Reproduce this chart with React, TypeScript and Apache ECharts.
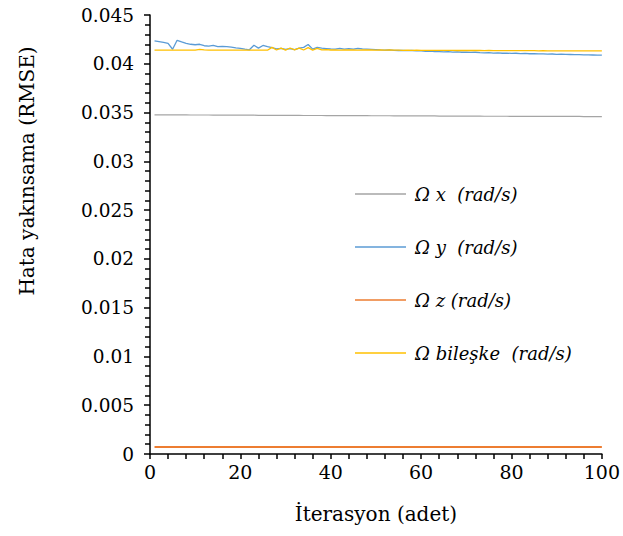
import React, { useEffect, useRef } from "react";
import * as echarts from "echarts";

const iterations = [
  1, 2, 3, 4, 5, 6, 7, 8, 9, 10, 11, 12, 13, 14, 15, 16, 17, 18, 19, 20,
  21, 22, 23, 24, 25, 26, 27, 28, 29, 30, 31, 32, 33, 34, 35, 36, 37, 38, 39, 40,
  41, 42, 43, 44, 45, 46, 47, 48, 49, 50, 51, 52, 53, 54, 55, 56, 57, 58, 59, 60,
  61, 62, 63, 64, 65, 66, 67, 68, 69, 70, 71, 72, 73, 74, 75, 76, 77, 78, 79, 80,
  81, 82, 83, 84, 85, 86, 87, 88, 89, 90, 91, 92, 93, 94, 95, 96, 97, 98, 99, 100,
];

const omegaX = [
  0.03477, 0.03477, 0.03477, 0.03476, 0.03476, 0.03476, 0.03476, 0.03476, 0.03475, 0.03475,
  0.03475, 0.03475, 0.03475, 0.03474, 0.03474, 0.03474, 0.03474, 0.03474, 0.03473, 0.03473,
  0.03473, 0.03473, 0.03473, 0.03472, 0.03472, 0.03472, 0.03472, 0.03472, 0.03471, 0.03471,
  0.03471, 0.03471, 0.03471, 0.0347, 0.0347, 0.0347, 0.0347, 0.0347, 0.03469, 0.03469,
  0.03469, 0.03469, 0.03469, 0.03468, 0.03468, 0.03468, 0.03468, 0.03468, 0.03467, 0.03467,
  0.03467, 0.03467, 0.03467, 0.03466, 0.03466, 0.03466, 0.03466, 0.03466, 0.03465, 0.03465,
  0.03465, 0.03465, 0.03465, 0.03464, 0.03464, 0.03464, 0.03464, 0.03464, 0.03463, 0.03463,
  0.03463, 0.03463, 0.03463, 0.03462, 0.03462, 0.03462, 0.03462, 0.03462, 0.03462, 0.03461,
  0.03461, 0.03461, 0.03461, 0.03461, 0.03461, 0.03461, 0.0346, 0.0346, 0.0346, 0.0346,
  0.0346, 0.0346, 0.0346, 0.0346, 0.0346, 0.03459, 0.03459, 0.03459, 0.03459, 0.03459,
];

const omegaY = [
  0.04234, 0.04227, 0.0422, 0.0421, 0.04149, 0.04241, 0.04225, 0.0421, 0.042, 0.04195,
  0.042, 0.04185, 0.0418, 0.04188, 0.04175, 0.04178, 0.04176, 0.0417, 0.04162, 0.04158,
  0.0415, 0.04143, 0.0419, 0.0416, 0.04188, 0.04175, 0.04165, 0.04152, 0.04158, 0.04148,
  0.04155, 0.04145, 0.0416, 0.04168, 0.04198, 0.0415, 0.04168, 0.0416, 0.04156, 0.04152,
  0.0415, 0.04158, 0.0415, 0.04156, 0.0415, 0.04158, 0.04152, 0.0415, 0.04148, 0.04146,
  0.04142, 0.0414, 0.04142, 0.04138, 0.04136, 0.04138, 0.04134, 0.04136, 0.04132, 0.04133,
  0.04128, 0.0413, 0.04126, 0.04124, 0.04122, 0.04124, 0.0412, 0.04122, 0.04118, 0.04119,
  0.04116, 0.04118, 0.04114, 0.04112, 0.04114, 0.0411, 0.04112, 0.04108, 0.04109, 0.04106,
  0.04108, 0.04105, 0.04106, 0.04103, 0.04105, 0.04101, 0.04102, 0.04099, 0.041, 0.04097,
  0.04098, 0.04096, 0.04095, 0.04094, 0.04093, 0.04092, 0.04091, 0.0409, 0.04089, 0.04088,
];

const omegaZ = [
  0.00072, 0.00072, 0.00072, 0.00072, 0.00072, 0.00072, 0.00072, 0.00072, 0.00072, 0.00072,
  0.00072, 0.00072, 0.00072, 0.00072, 0.00072, 0.00072, 0.00072, 0.00072, 0.00072, 0.00072,
  0.00072, 0.00072, 0.00072, 0.00072, 0.00072, 0.00072, 0.00072, 0.00072, 0.00072, 0.00072,
  0.00072, 0.00072, 0.00072, 0.00072, 0.00072, 0.00072, 0.00072, 0.00072, 0.00072, 0.00072,
  0.00072, 0.00072, 0.00072, 0.00072, 0.00072, 0.00072, 0.00072, 0.00072, 0.00072, 0.00072,
  0.00072, 0.00072, 0.00072, 0.00072, 0.00072, 0.00072, 0.00072, 0.00072, 0.00072, 0.00072,
  0.00072, 0.00072, 0.00072, 0.00072, 0.00072, 0.00072, 0.00072, 0.00072, 0.00072, 0.00072,
  0.00072, 0.00072, 0.00072, 0.00072, 0.00072, 0.00072, 0.00072, 0.00072, 0.00072, 0.00072,
  0.00072, 0.00072, 0.00072, 0.00072, 0.00072, 0.00072, 0.00072, 0.00072, 0.00072, 0.00072,
  0.00072, 0.00072, 0.00072, 0.00072, 0.00072, 0.00072, 0.00072, 0.00072, 0.00072, 0.00072,
];

const omegaResultant = [
  0.04139, 0.04139, 0.04139, 0.04139, 0.04139, 0.04139, 0.04139, 0.04139, 0.04139, 0.04139,
  0.04148, 0.04142, 0.04139, 0.04139, 0.04139, 0.04139, 0.04139, 0.04139, 0.04139, 0.04139,
  0.04139, 0.04139, 0.04139, 0.04139, 0.04139, 0.04139, 0.04168, 0.04141, 0.0416, 0.0414,
  0.04162, 0.04142, 0.0416, 0.04141, 0.04165, 0.0414, 0.04158, 0.04143, 0.04145, 0.04141,
  0.04142, 0.0414, 0.04143, 0.04141, 0.04142, 0.0414, 0.04143, 0.04141, 0.04142, 0.0414,
  0.04141, 0.04139, 0.04141, 0.04139, 0.0414, 0.04138, 0.0414, 0.04138, 0.04139, 0.04138,
  0.04138, 0.04137, 0.04138, 0.04137, 0.04138, 0.04137, 0.04137, 0.04136, 0.04137, 0.04136,
  0.04136, 0.04136, 0.04136, 0.04135, 0.04136, 0.04135, 0.04135, 0.04135, 0.04135, 0.04134,
  0.04134, 0.04134, 0.04134, 0.04134, 0.04134, 0.04133, 0.04134, 0.04133, 0.04133, 0.04133,
  0.04133, 0.04133, 0.04133, 0.04133, 0.04133, 0.04133, 0.04133, 0.04133, 0.04133, 0.04133,
];

const seriesNames = ["Ω x  (rad/s)", "Ω y  (rad/s)", "Ω z (rad/s)", "Ω bileşke  (rad/s)"];
const seriesColors = ["#A5A5A5", "#5B9BD5", "#ED7D31", "#FFC000"];
const yTickLabels = ["0", "0.005", "0.01", "0.015", "0.02", "0.025", "0.03", "0.035", "0.04", "0.045"];
const xTickLabels = ["0", "20", "40", "60", "80", "100"];

const FONT = "DejaVu Serif";

export default function App() {
  const ref = useRef<HTMLDivElement>(null);

  useEffect(() => {
    if (!ref.current) return;
    document.body.style.margin = "0";
    const chart = echarts.init(ref.current, undefined, { renderer: "svg" });
    const allSeries = [omegaX, omegaY, omegaZ, omegaResultant];
    chart.setOption({
      animation: false,
      grid: { left: 150, right: 17, top: 15, bottom: 82, containLabel: false },
      legend: {
        orient: "vertical",
        left: 350,
        top: 179,
        itemWidth: 51,
        itemHeight: 1.5,
        itemGap: 33,
        icon: "rect",
        data: seriesNames,
        textStyle: {
          fontFamily: FONT,
          fontStyle: "italic",
          fontSize: 18,
          color: "#000",
          lineHeight: 20,
          padding: [0, 0, 0, 4],
        },
      },
      xAxis: {
        type: "value",
        min: 0,
        max: 100,
        interval: 20,
        name: "İterasyon (adet)",
        nameLocation: "middle",
        nameGap: 50,
        nameTextStyle: { fontFamily: FONT, fontSize: 20, color: "#000" },
        axisLine: { lineStyle: { color: "#000", width: 1.5 } },
        axisTick: { show: true, length: 5, lineStyle: { color: "#000", width: 1.5 } },
        minorTick: { show: true, splitNumber: 5, length: 5, lineStyle: { color: "#000", width: 1.5 } },
        splitLine: { show: false },
        axisLabel: {
          fontFamily: FONT,
          fontSize: 19,
          color: "#000",
          margin: 8,
          formatter: (v: number) => xTickLabels[Math.round(v / 20)] ?? "",
        },
      },
      yAxis: {
        type: "value",
        min: 0,
        max: 0.045,
        interval: 0.005,
        axisLine: { show: true, lineStyle: { color: "#000", width: 1.5 } },
        axisTick: { show: true, length: 6, lineStyle: { color: "#000", width: 1.5 } },
        minorTick: { show: true, splitNumber: 5, length: 5, lineStyle: { color: "#000", width: 1.5 } },
        splitLine: { show: false },
        axisLabel: {
          fontFamily: FONT,
          fontSize: 18.5,
          color: "#000",
          margin: 16,
          formatter: (v: number) => yTickLabels[Math.round(v / 0.005)] ?? "",
        },
      },
      graphic: [
        {
          type: "text",
          x: 27,
          y: 171,
          rotation: Math.PI / 2,
          style: {
            text: "Hata yakınsama (RMSE)",
            fontFamily: FONT,
            fontSize: 20,
            fill: "#000",
            align: "center",
            verticalAlign: "middle",
          },
        },
      ],
      series: seriesNames.map((name, i) => ({
        name,
        type: "line",
        data: iterations.map((x, j) => [x, allSeries[i][j]]),
        showSymbol: false,
        symbol: "none",
        color: seriesColors[i],
        lineStyle: { color: seriesColors[i], width: i === 2 ? 1.8 : i === 0 ? 1.2 : 1.3 },
        z: i === 3 ? 4 : 3,
      })),
    });
    return () => chart.dispose();
  }, []);

  return <div ref={ref} style={{ width: 623, height: 536 }} />;
}
